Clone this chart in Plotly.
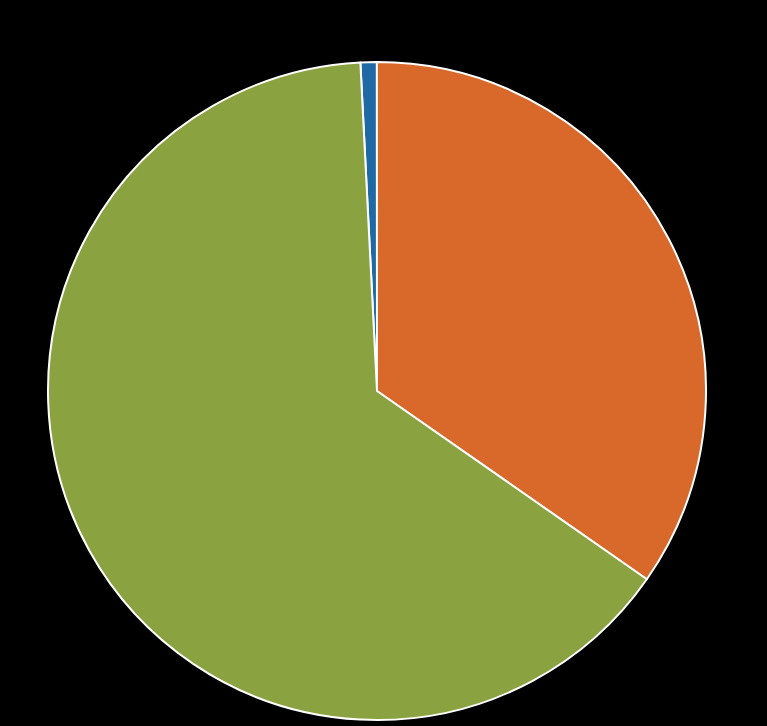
import plotly.graph_objects as go

labels = ["A", "B", "C"]
values = [0.8, 34.7, 64.5]
colors = ["#1f6aa5", "#d9692a", "#8aa23f"]

fig = go.Figure(
    go.Pie(
        labels=labels,
        values=values,
        sort=False,
        direction="clockwise",
        rotation=-2.9,
        marker=dict(colors=colors, line=dict(color="white", width=2)),
        textinfo="none",
        hoverinfo="label+percent",
    )
)
fig.update_layout(
    width=767,
    height=726,
    margin=dict(l=0, r=13, t=62, b=6),
    paper_bgcolor="black",
    plot_bgcolor="black",
    showlegend=False,
)

# page has default body margin; remove it so the chart fills the window
page_css = (
    "document.body.style.margin='0';"
    "document.body.style.background='black';"
    "document.body.style.overflow='hidden';"
)
fig.write_html(
    "out.html",
    post_script=page_css,
    config={"displayModeBar": False},
)
